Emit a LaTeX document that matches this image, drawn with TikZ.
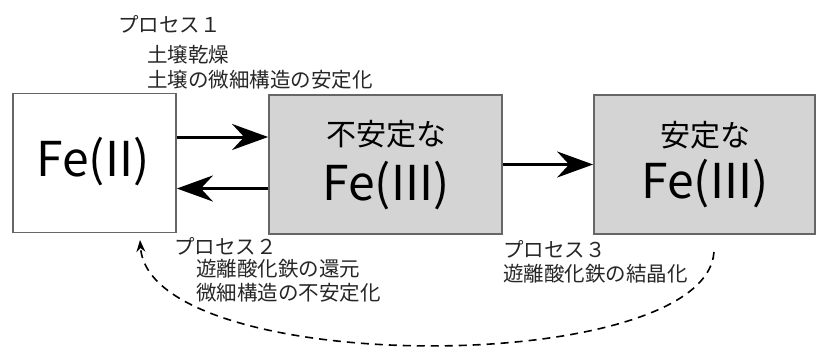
\documentclass[tikz,border=0pt]{standalone}
\usepackage{fontspec}
\setmainfont{Noto Sans CJK JP}
\usepackage{tikz}
\usetikzlibrary{arrows.meta}
\usetikzlibrary{calc}
\usetikzlibrary{positioning}

\tikzset{
  febox/.style={draw=black!60, line width=1.8pt, minimum height=139pt},
  unstable/.style={febox, fill=black!17},
  bigfe/.style={font=\fontsize{48}{50}\selectfont, inner sep=0pt},
  jpbig/.style={font=\fontsize{30}{34}\selectfont, inner sep=0pt},
  proc/.style={font=\fontsize{20.5}{24}\selectfont, anchor=west, inner sep=0pt, text=black!85},
  flow/.style={line width=3pt, -{Stealth[length=36pt, width=26pt, inset=12pt]}},
  back/.style={line width=1.6pt, dash pattern=on 8pt off 6pt, -{Stealth[length=12pt, width=9pt]}}
}

\begin{document}
\begin{tikzpicture}[x=1pt, y=-1pt]
        \useasboundingbox (0,0) rectangle (817,351);

        % the three states
        \node[febox, fill=white, minimum width=163pt] (fe2) at (94.5,163) {};
        \node[unstable, minimum width=233pt] (unst) at (385.5,164.5) {};
        \node[unstable, minimum width=221pt] (stab) at (704.5,164.5) {};

        \node[bigfe] (fe2txt) at (93,162) {Fe(II)};
        \node[jpbig] (unstjp) at (386,134) {不安定な};
        \node[bigfe] (unstfe) at (386,186) {Fe(III)};
        \node[jpbig] (stabjp) at (705,135) {安定な};
        \node[bigfe] (stabfe) at (705,184) {Fe(III)};

        % arrows between the boxes
        \draw[flow] ([yshift=26pt]fe2.east) -- ([yshift=26pt]fe2.east -| unst.west);
        \draw[flow] ([yshift=-24pt]unst.west) -- ([yshift=-24pt]unst.west -| fe2.east);
        \draw[flow] (unst.east) -- (stab.west);

        % return path
        \coordinate (retfrom) at (714,252);
        \coordinate (retto) at (140,240);
        \draw[back] (retfrom) .. controls (705,378) and (150,378) .. (retto);

        % process labels
        \node[proc] (p1) at (118,24) {プロセス１};
        \node[proc] (p1a) at (147,55) {土壌乾燥};
        \node[proc] (p1b) at (147,80) {土壌の微細構造の安定化};

        \node[proc] (p2) at (174,246) {プロセス２};
        \node[proc] (p2a) at (196,269) {遊離酸化鉄の還元};
        \node[proc] (p2b) at (196,293) {微細構造の不安定化};

        \node[proc] (p3) at (503,249) {プロセス３};
        \node[proc] (p3a) at (503,274) {遊離酸化鉄の結晶化};
\end{tikzpicture}
\end{document}
